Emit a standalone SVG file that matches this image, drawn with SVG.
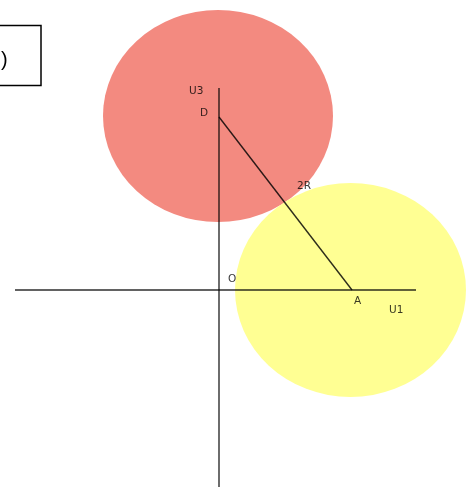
<svg xmlns="http://www.w3.org/2000/svg" width="473" height="487" viewBox="0 0 473 487">
<style>
.ax{stroke:#2e2e2e;stroke-width:1.4;fill:none;mix-blend-mode:multiply}
.lb{font-family:"DejaVu Sans",sans-serif;font-size:10.5px;fill:#3a3a3a;mix-blend-mode:multiply}
</style>
<rect width="473" height="487" fill="#fff"/>
<g id="box"><rect x="-5" y="25.5" width="46" height="60" fill="#fff" stroke="#000" stroke-width="1.5"/><text x="1" y="66" font-family="Liberation Sans, sans-serif" font-size="20" fill="#000">)</text></g>
<g id="circleD"><ellipse cx="218" cy="116" rx="115" ry="106" fill="#f38a80"/></g>
<g id="circleA"><ellipse cx="350.5" cy="290" rx="115.5" ry="107" fill="#ffff93"/></g>
<g id="connectors">
<line class="ax" x1="15" y1="290" x2="416" y2="290"/>
<line class="ax" x1="219" y1="88" x2="219" y2="487"/>
<line class="ax" x1="219" y1="117" x2="352" y2="290" stroke-width="1"/>
</g>
<g id="labels">
<text class="lb" x="189" y="94">U3</text>
<text class="lb" x="200" y="116">D</text>
<text class="lb" x="297" y="189">2R</text>
<text class="lb" x="228" y="282">O</text>
<text class="lb" x="354" y="304">A</text>
<text class="lb" x="389" y="313">U1</text>
</g>
</svg>
